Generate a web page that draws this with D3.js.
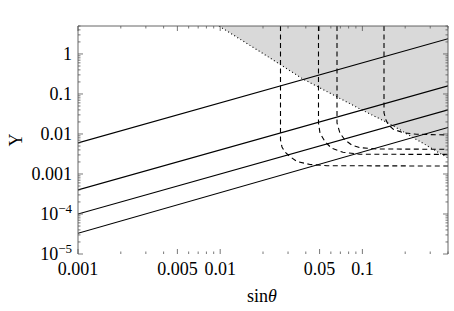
<!DOCTYPE html>
<html><head><meta charset="utf-8">
<script src="https://cdn.jsdelivr.net/npm/d3@7"></script>
<style>
html,body{margin:0;padding:0;background:#fff;}
svg text{font-family:"Liberation Serif","DejaVu Serif",serif;fill:#000;}
</style></head>
<body><svg id="c" width="454" height="311"></svg>
<script>
// ---- data ----
const xDomain = [0.001, 0.4];
const yDomain = [1e-5, 5];
const xTickMajor = [0.001, 0.005, 0.01, 0.05, 0.1];
const xTickLabels = ["0.001", "0.005", "0.01", "0.05", "0.1"];
const yTickMajor = [1, 0.1, 0.01, 0.001, 1e-4, 1e-5];
const yTickLabels = ["1", "0.1", "0.01", "0.001", "10^−4", "10^−5"];

// solid lines: [sinθ, Y] endpoints
const solid1 = [[0.001, 0.006], [0.4, 2.4]];
const solid2 = [[0.001, 4e-4], [0.4, 0.16]];
const solid3 = [[0.001, 1e-4], [0.4, 0.04]];
const solid4 = [[0.001, 3.3e-5], [0.4, 0.0145]];

// dashed curves
const dashed1 = [[0.02655,5],[0.02655,0.00708],[0.0272,0.00473],[0.02856,0.00355],[0.03097,0.00271],[0.03467,0.00205],[0.04281,0.00173],[0.05637,0.00161],[0.4,0.00158]];
const dashed2 = [[0.04912,5],[0.04912,0.01884],[0.05032,0.01059],[0.05458,0.00642],[0.06082,0.00439],[0.07304,0.00349],[0.09618,0.00311],[0.4,0.00309]];
const dashed3 = [[0.06629,5],[0.06629,0.01884],[0.0696,0.01041],[0.07545,0.00708],[0.0841,0.00531],[0.09618,0.00455],[0.1261,0.00422],[0.4,0.00414]];
const dashed4 = [[0.1419,5],[0.1419,0.0335],[0.1466,0.0224],[0.1521,0.0168],[0.165,0.0131],[0.1939,0.01078],[0.2409,0.00983],[0.4,0.00944]];

// excluded (shaded) region boundary
const boundary = [[0.00981,5],[0.01905,1.142],[0.03821,0.237],[0.09618,0.0422],[0.1563,0.0178],[0.4,0.00251]];

const axisLabelX = "sinθ";
const axisLabelY = "Y";

// ---- drawing ----
const svg = d3.select("#c");
const L = 78, R = 448, T = 26, B = 254;
const x = d3.scaleLog().domain(xDomain).range([L, R]);
const y = d3.scaleLog().domain(yDomain).range([B, T]);

svg.append("defs").append("clipPath").attr("id","clip")
  .append("rect").attr("x",L).attr("y",T).attr("width",R-L).attr("height",B-T);
const g = svg.append("g").attr("clip-path","url(#clip)");

const line = d3.line().x(d => x(d[0])).y(d => y(d[1]));

// shaded region: boundary then up to top-right
const area = boundary.concat([[xDomain[1], yDomain[1]]]);
g.append("path").attr("d", line(area) + "Z").attr("fill","#d9d9d9").attr("stroke","none");
g.append("path").attr("d", line(boundary)).attr("fill","none")
  .attr("stroke","#000").attr("stroke-width",1.1).attr("stroke-dasharray","1,2.6");

[solid1, solid2, solid3, solid4].forEach(s => {
  g.append("path").attr("d", line(s)).attr("fill","none").attr("stroke","#000").attr("stroke-width",1.1);
});
[dashed1, dashed2, dashed3, dashed4].forEach(s => {
  g.append("path").attr("d", line(s)).attr("fill","none").attr("stroke","#000")
    .attr("stroke-width",1.1).attr("stroke-dasharray","5,3.5");
});

// frame (left, top, right)
svg.append("path").attr("d", `M${L},${B}V${T}H${R}V${B}`).attr("fill","none")
  .attr("stroke","#555").attr("stroke-width",0.9);

// ticks
const tg = svg.append("g").attr("stroke","#555").attr("stroke-width",0.8);
const xMinor = [];
for (let e = -3; e <= -1; e++) for (let m = 1; m <= 9; m++) { const v = m * Math.pow(10, e); if (v >= xDomain[0] && v <= xDomain[1]) xMinor.push(v); }
xMinor.forEach(v => {
  const major = xTickMajor.includes(+v.toPrecision(3));
  const len = major ? 5 : 2.5;
  const px = x(v);
  tg.append("line").attr("x1",px).attr("x2",px).attr("y1",B).attr("y2",B-len);
  tg.append("line").attr("x1",px).attr("x2",px).attr("y1",T).attr("y2",T+len);
});
const yMinor = [];
for (let e = -5; e <= 0; e++) for (let m = 1; m <= 9; m++) { const v = m * Math.pow(10, e); if (v >= yDomain[0] && v <= yDomain[1] * 1.0001) yMinor.push(v); }
yMinor.forEach(v => {
  const major = yTickMajor.some(t => Math.abs(t - v) / t < 1e-6);
  const len = major ? 5 : 2.5;
  const py = y(v);
  tg.append("line").attr("x1",L).attr("x2",L+len).attr("y1",py).attr("y2",py);
  tg.append("line").attr("x1",R).attr("x2",R-len).attr("y1",py).attr("y2",py);
});

// x tick labels
xTickMajor.forEach((v, i) => {
  svg.append("text").attr("x", x(v)).attr("y", B + 21).attr("text-anchor","middle")
    .attr("font-size",18).text(xTickLabels[i]);
});
// y tick labels
yTickMajor.forEach((v, i) => {
  const lab = yTickLabels[i];
  const t = svg.append("text").attr("x", L - 6).attr("y", y(v) + 6).attr("text-anchor","end").attr("font-size",18);
  if (lab.includes("^")) {
    const [base, ex] = lab.split("^");
    t.append("tspan").text(base);
    t.append("tspan").attr("dy",-7).attr("font-size",13).text(ex);
  } else t.text(lab);
});

// axis titles
const xt = svg.append("text").attr("x", 262).attr("y", 302).attr("text-anchor","middle").attr("font-size",18);
xt.append("tspan").text("sin");
xt.append("tspan").attr("font-style","italic").text("θ");
svg.append("text").attr("transform","translate(22,140) rotate(-90)").attr("text-anchor","middle")
  .attr("font-size",18).text(axisLabelY);
</script></body></html>
